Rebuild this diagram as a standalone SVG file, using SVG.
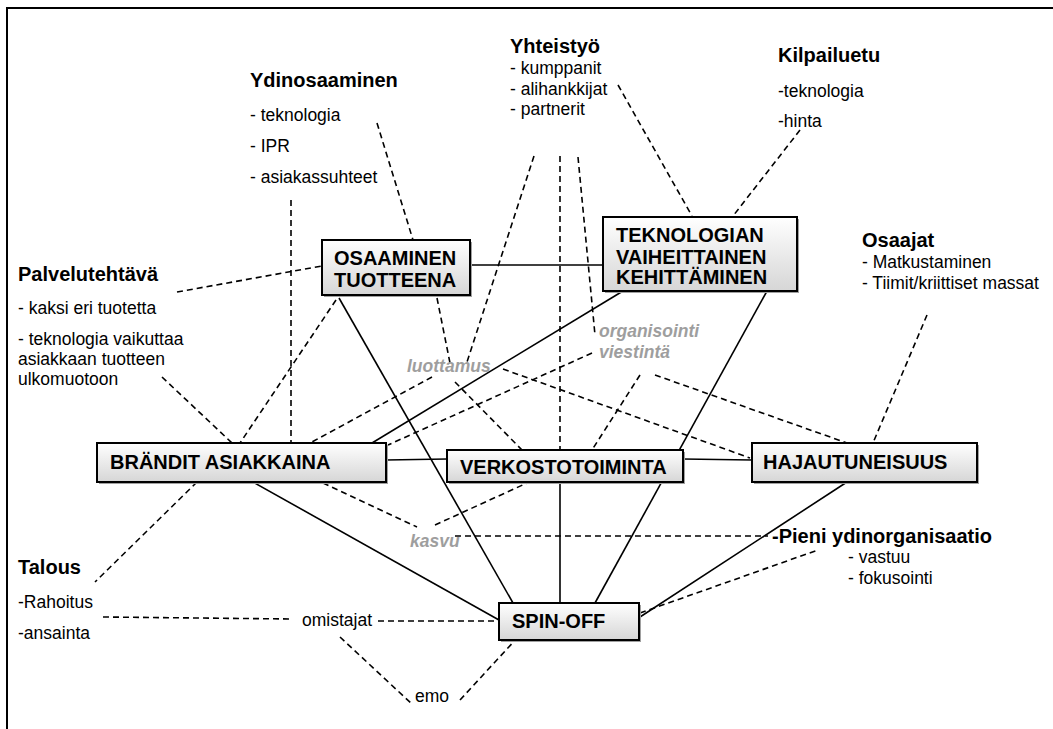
<svg xmlns="http://www.w3.org/2000/svg" width="1053" height="729" viewBox="0 0 1053 729">
  <defs>
    <linearGradient id="boxFill" x1="0" y1="0" x2="0" y2="1">
      <stop offset="0" stop-color="#ffffff"/>
      <stop offset="1" stop-color="#d6d6d6"/>
    </linearGradient>
  </defs>
  <style>
    text { font-family: "Liberation Sans", Arial, sans-serif; fill: #000; }
    .head { font-size: 20px; font-weight: bold; }
    .item { font-size: 17.5px; }
    .node text { font-size: 20px; font-weight: bold; }
    .node .box { fill: url(#boxFill); stroke: #000; stroke-width: 2; }
    .node .shadow { fill: #a0a0a0; }
    .soft { font-size: 17.5px; font-weight: bold; font-style: italic; fill: #9e9e9e; }
    .solid { stroke: #000; stroke-width: 1.6; fill: none; }
    .dash { stroke: #000; stroke-width: 1.6; fill: none; stroke-dasharray: 6 4; }
  </style>

  <rect width="1053" height="729" fill="#fff"/>
  <!-- outer frame, open to the right and bottom -->
  <rect x="7" y="8" width="1070" height="760" fill="none" stroke="#000" stroke-width="2"/>

  <!-- connectors -->
  <g id="connectors">
    <!-- solid links between the core nodes -->
    <line class="solid" x1="470" y1="265" x2="603" y2="265"/>
    <line class="solid" x1="339" y1="298" x2="513" y2="603"/>
    <line class="solid" x1="623" y1="291" x2="372" y2="443"/>
    <line class="solid" x1="767" y1="291" x2="595" y2="603"/>
    <line class="solid" x1="386" y1="460" x2="447" y2="459"/>
    <line class="solid" x1="683" y1="459" x2="752" y2="460"/>
    <line class="solid" x1="253" y1="482" x2="499" y2="620"/>
    <line class="solid" x1="560" y1="482" x2="560" y2="603"/>
    <line class="solid" x1="847" y1="482" x2="640" y2="617"/>

    <!-- dashed links to the themes -->
    <line class="dash" x1="291" y1="200" x2="291" y2="443"/>
    <line class="dash" x1="377" y1="123" x2="413" y2="240"/>
    <line class="dash" x1="177" y1="292" x2="322" y2="266"/>
    <line class="dash" x1="162" y1="377" x2="232" y2="443"/>
    <line class="dash" x1="336" y1="300" x2="240" y2="443"/>
    <line class="dash" x1="534" y1="156" x2="466" y2="365"/>
    <line class="dash" x1="437" y1="298" x2="450" y2="363"/>
    <line class="dash" x1="455" y1="382" x2="522" y2="450"/>
    <line class="dash" x1="432" y1="377" x2="310" y2="443"/>
    <line class="dash" x1="503" y1="369" x2="750" y2="458"/>
    <line class="dash" x1="655" y1="375" x2="847" y2="443"/>
    <line class="dash" x1="592" y1="353" x2="388" y2="445"/>
    <line class="dash" x1="640" y1="375" x2="592" y2="450"/>
    <line class="dash" x1="560" y1="156" x2="560" y2="450"/>
    <line class="dash" x1="578" y1="157" x2="595" y2="335"/>
    <line class="dash" x1="618" y1="85" x2="692" y2="216"/>
    <line class="dash" x1="800" y1="130" x2="733" y2="216"/>
    <line class="dash" x1="927" y1="315" x2="873" y2="443"/>
    <line class="dash" x1="197" y1="482" x2="95" y2="582"/>
    <line class="dash" x1="323" y1="483" x2="417" y2="527"/>
    <line class="dash" x1="435" y1="525" x2="527" y2="483"/>
    <line class="dash" x1="455" y1="536" x2="768" y2="536"/>
    <line class="dash" x1="103" y1="617" x2="292" y2="619"/>
    <line class="dash" x1="378" y1="621" x2="499" y2="621"/>
    <line class="dash" x1="340" y1="637" x2="413" y2="705"/>
    <line class="dash" x1="460" y1="700" x2="518" y2="637"/>
    <line class="dash" x1="640" y1="613" x2="818" y2="550"/>
  </g>

  <!-- core nodes -->
  <g id="node-osaaminen" class="node">
    <rect class="shadow" x="324" y="242" width="148" height="55"/>
    <rect class="box" x="322" y="240" width="148" height="55"/>
    <text x="334" y="265">OSAAMINEN</text>
    <text x="334" y="287">TUOTTEENA</text>
  </g>
  <g id="node-teknologian" class="node">
    <rect class="shadow" x="605" y="219" width="194" height="74"/>
    <rect class="box" x="603" y="217" width="194" height="74"/>
    <text x="616" y="242">TEKNOLOGIAN</text>
    <text x="616" y="264">VAIHEITTAINEN</text>
    <text x="616" y="284">KEHITTÄMINEN</text>
  </g>
  <g id="node-brandit" class="node">
    <rect class="shadow" x="99" y="445" width="289" height="39"/>
    <rect class="box" x="97" y="443" width="289" height="39"/>
    <text x="110" y="469">BRÄNDIT ASIAKKAINA</text>
  </g>
  <g id="node-verkosto" class="node">
    <rect class="shadow" x="449" y="452" width="236" height="32"/>
    <rect class="box" x="447" y="450" width="236" height="32"/>
    <text x="460" y="474">VERKOSTOTOIMINTA</text>
  </g>
  <g id="node-hajautuneisuus" class="node">
    <rect class="shadow" x="754" y="445" width="225" height="39"/>
    <rect class="box" x="752" y="443" width="225" height="39"/>
    <text x="763" y="469">HAJAUTUNEISUUS</text>
  </g>
  <g id="node-spinoff" class="node">
    <rect class="shadow" x="501" y="605" width="140" height="37"/>
    <rect class="box" x="499" y="603" width="140" height="37"/>
    <text x="512" y="628">SPIN-OFF</text>
  </g>

  <!-- theme labels -->
  <g id="theme-ydinosaaminen">
    <text class="head" x="250" y="87">Ydinosaaminen</text>
    <text class="item" x="250" y="121">- teknologia</text>
    <text class="item" x="250" y="152">- IPR</text>
    <text class="item" x="250" y="183">- asiakassuhteet</text>
  </g>
  <g id="theme-yhteistyo">
    <text class="head" x="510" y="53">Yhteistyö</text>
    <text class="item" x="510" y="74">- kumppanit</text>
    <text class="item" x="510" y="95">- alihankkijat</text>
    <text class="item" x="510" y="115">- partnerit</text>
  </g>
  <g id="theme-kilpailuetu">
    <text class="head" x="778" y="62">Kilpailuetu</text>
    <text class="item" x="778" y="97">-teknologia</text>
    <text class="item" x="778" y="127">-hinta</text>
  </g>
  <g id="theme-osaajat">
    <text class="head" x="862" y="247">Osaajat</text>
    <text class="item" x="862" y="268">- Matkustaminen</text>
    <text class="item" x="862" y="289">- Tiimit/kriittiset massat</text>
  </g>
  <g id="theme-palvelutehtava">
    <text class="head" x="18" y="281">Palvelutehtävä</text>
    <text class="item" x="18" y="314">- kaksi eri tuotetta</text>
    <text class="item" x="18" y="345">- teknologia vaikuttaa</text>
    <text class="item" x="18" y="365">asiakkaan tuotteen</text>
    <text class="item" x="18" y="385">ulkomuotoon</text>
  </g>
  <g id="theme-talous">
    <text class="head" x="18" y="574">Talous</text>
    <text class="item" x="18" y="608">-Rahoitus</text>
    <text class="item" x="18" y="639">-ansainta</text>
  </g>
  <g id="theme-pieni">
    <text class="head" x="772" y="543">-Pieni ydinorganisaatio</text>
    <text class="item" x="848" y="563">- vastuu</text>
    <text class="item" x="848" y="584">- fokusointi</text>
  </g>
  <g id="label-omistajat">
    <text class="item" x="302" y="626">omistajat</text>
  </g>
  <g id="label-emo">
    <text class="item" x="415" y="702">emo</text>
  </g>

  <!-- soft grey link labels -->
  <g id="label-luottamus"><text class="soft" x="407" y="372">luottamus</text></g>
  <g id="label-organisointi">
    <text class="soft" x="599" y="337">organisointi</text>
    <text class="soft" x="599" y="358">viestintä</text>
  </g>
  <g id="label-kasvu"><text class="soft" x="410" y="547">kasvu</text></g>
</svg>
